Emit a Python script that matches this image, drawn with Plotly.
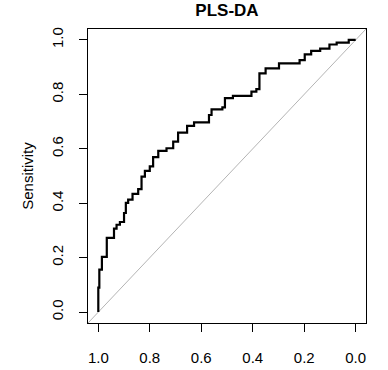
import plotly.graph_objects as go

# ROC curve corner points (specificity, sensitivity)
specificity = [1.000, 1.000, 0.996, 0.986, 0.967, 0.939, 0.929, 0.916, 0.900, 0.893,
               0.884, 0.867, 0.845, 0.832, 0.819, 0.800, 0.787, 0.767, 0.735, 0.709,
               0.690, 0.655, 0.628, 0.570, 0.560, 0.518, 0.508, 0.477, 0.405, 0.386,
               0.374, 0.350, 0.298, 0.218, 0.198, 0.173, 0.138, 0.102, 0.074, 0.027,
               0.000]
sensitivity = [0.000, 0.090, 0.156, 0.203, 0.273, 0.307, 0.321, 0.331, 0.364, 0.401,
               0.413, 0.434, 0.452, 0.498, 0.519, 0.535, 0.569, 0.592, 0.602, 0.626,
               0.659, 0.684, 0.697, 0.724, 0.745, 0.752, 0.786, 0.794, 0.810, 0.819,
               0.877, 0.895, 0.914, 0.926, 0.947, 0.960, 0.968, 0.983, 0.990, 1.000,
               1.000]
tick_vals = [1.0, 0.8, 0.6, 0.4, 0.2, 0.0]
tick_text = ["1.0", "0.8", "0.6", "0.4", "0.2", "0.0"]

pad = 0.04
x_range = [1 + pad, -pad]
y_range = [-pad, 1 + pad]

fig = go.Figure()
fig.add_shape(type="line", xref="x", yref="y",
              x0=x_range[0], y0=y_range[0], x1=x_range[1], y1=y_range[1],
              line=dict(color="#b4b4b4", width=1), layer="below")
fig.add_trace(go.Scatter(x=specificity, y=sensitivity, mode="lines",
                         line=dict(color="black", width=2.2, shape="hv"),
                         showlegend=False, hoverinfo="skip"))

font = dict(family="Liberation Sans, Arial, sans-serif", size=15, color="black")
fig.update_layout(
    width=388, height=370,
    margin=dict(l=88, r=22, t=29, b=47),
    paper_bgcolor="white", plot_bgcolor="white",
    font=font,
    title=dict(text="<b>PLS-DA</b>", xref="paper", x=0.5, xanchor="center",
               yref="container", y=0.972, yanchor="middle",
               font=dict(family="Liberation Sans, Arial, sans-serif", size=17, color="black")),
    xaxis=dict(range=x_range, tickvals=tick_vals, ticktext=tick_text,
               ticks="outside", ticklen=8, tickcolor="black", tickwidth=1,
               showline=True, linecolor="black", linewidth=1, mirror=True,
               showgrid=False, zeroline=False, ticklabelstandoff=13,
               tickfont=font, automargin=False),
    yaxis=dict(range=y_range, tickvals=tick_vals, ticktext=tick_text,
               ticks="outside", ticklen=8, tickcolor="black", tickwidth=1,
               showline=True, linecolor="black", linewidth=1, mirror=True,
               showgrid=False, zeroline=False, tickangle=-90, ticklabelstandoff=10,
               tickfont=font, automargin=False,
               title=dict(text="Sensitivity", standoff=11, font=font)),
)

fig.write_html("out.html", config={"displayModeBar": False},
               post_script="document.body.style.margin='0';")
